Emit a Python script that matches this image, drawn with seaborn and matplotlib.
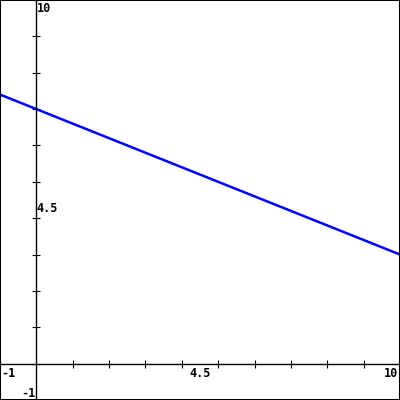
import matplotlib
matplotlib.use("Agg")
import matplotlib.pyplot as plt
from matplotlib.patches import Rectangle
import seaborn as sns
import pandas as pd
import numpy as np

# Data
x_vals = [-1, 10]
y_vals = [7.4, 3.0]
x_range = [-1, 10]
y_range = [-1, 10]
x_tick_labels = ["-1", "4.5", "10"]
x_tick_pos = [-1, 4.5, 10]
y_tick_labels = ["10", "4.5", "-1"]
y_tick_pos = [10, 4.5, -1]

sns.set_style("white")
plt.rcParams['font.family'] = ['DejaVu Sans Mono', 'DejaVu Sans']

fig = plt.figure(figsize=(4, 4), dpi=100)
ax = fig.add_axes([0, 0, 1, 1])

df = pd.DataFrame({"x": x_vals, "y": y_vals})
sns.lineplot(data=df, x="x", y="y", ax=ax, color="#0000ff", linewidth=1.8)

ax.set_xlim(*x_range)
ax.set_ylim(*y_range)
ax.set_xlabel("")
ax.set_ylabel("")

for s in ["top", "right"]:
    ax.spines[s].set_visible(False)
ax.spines["left"].set_position(("data", 0))
ax.spines["bottom"].set_position(("data", 0))
for s in ["left", "bottom"]:
    ax.spines[s].set_color("black")
    ax.spines[s].set_linewidth(1.0)

ticks_x = [t for t in range(x_range[0], x_range[1] + 1) if t != 0]
ticks_y = [t for t in range(y_range[0], y_range[1] + 1) if t != 0]
ax.set_xticks(ticks_x)
ax.set_yticks(ticks_y)
ax.set_xticklabels([])
ax.set_yticklabels([])
ax.tick_params(direction="inout", length=6, width=0.8, color="black",
               bottom=True, left=True)

fs = 8.5
kw = dict(fontsize=fs, fontweight="bold", color="black", textcoords="offset pixels")
# x labels
for lab, pos in zip(x_tick_labels, x_tick_pos):
    ha = "center"
    dx = 0
    if pos == x_range[0]:
        ha = "left"; dx = 1
    elif pos == x_range[1]:
        ha = "right"; dx = -2
    ax.annotate(lab, xy=(pos, 0), xytext=(dx, -3), ha=ha, va="top", **kw)
# y labels
for lab, pos in zip(y_tick_labels, y_tick_pos):
    if pos == y_range[1]:
        ax.annotate(lab, xy=(0, pos), xytext=(1, -2), ha="left", va="top", **kw)
    elif pos == y_range[0]:
        ax.annotate(lab, xy=(0, pos), xytext=(-1, 0), ha="right", va="bottom", **kw)
    else:
        ax.annotate(lab, xy=(0, pos), xytext=(0, -2), ha="left", va="top", **kw)

fig.patches.append(Rectangle((0, 0), 1, 1, transform=fig.transFigure,
                             fill=False, edgecolor="black", linewidth=1.5))

fig.savefig("out.png", dpi=100)
